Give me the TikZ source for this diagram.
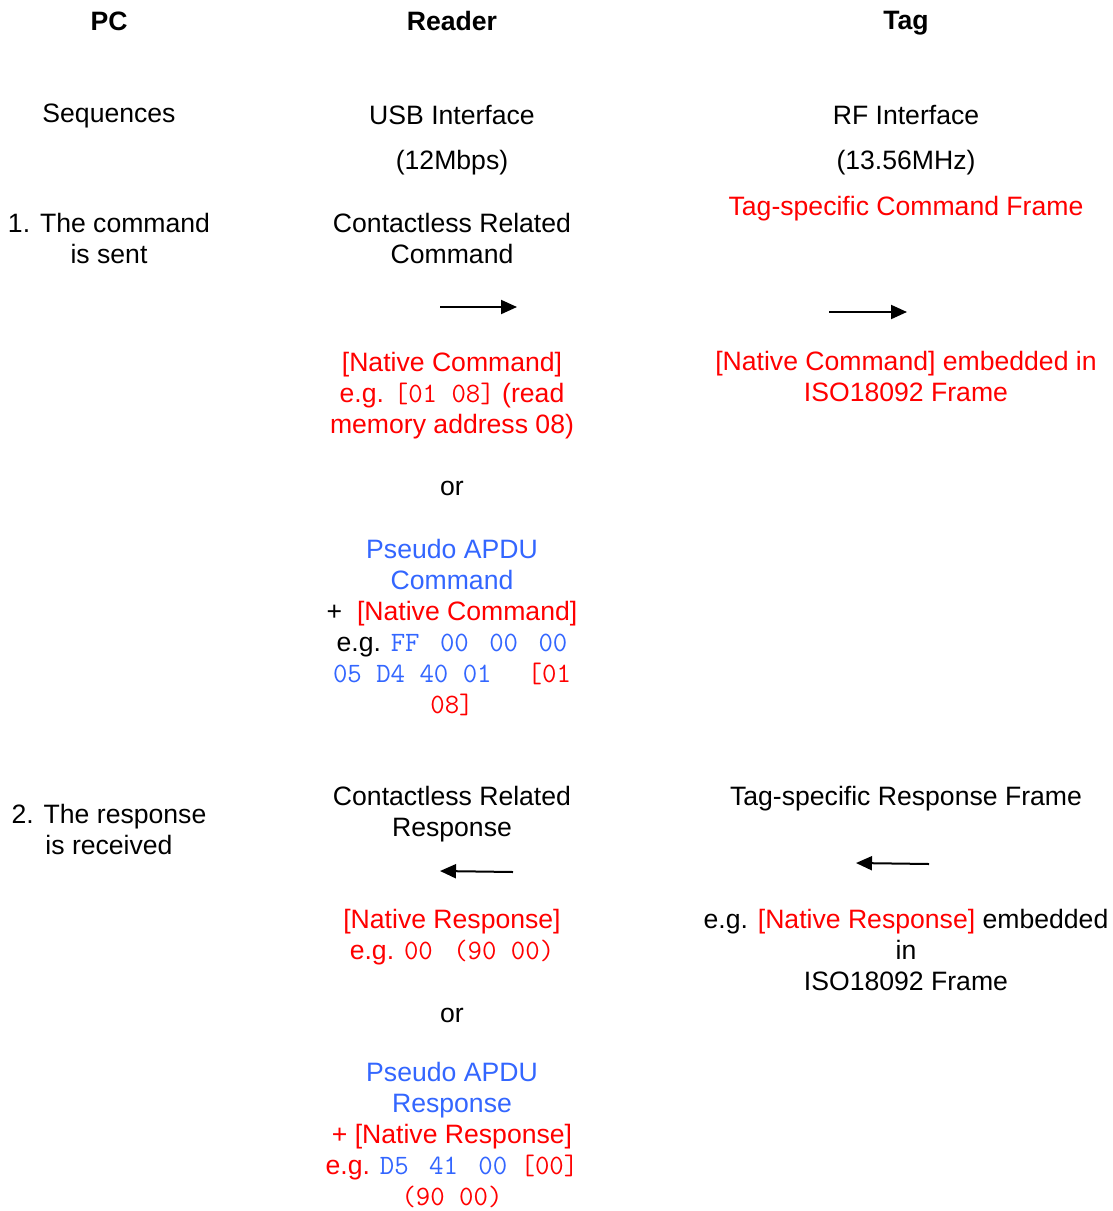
\documentclass[tikz,border=0pt]{standalone}
\usepackage{fontspec}
\setmainfont{Liberation Sans}
\usetikzlibrary{arrows.meta}
\definecolor{natred}{RGB}{255,0,0}
\definecolor{apdublue}{RGB}{51,102,255}
\newcommand{\hexcode}[1]{{\fontsize{14}{15.5}\selectfont\ttfamily #1}}
\newcommand{\red}[1]{\textcolor{natred}{#1}}
\newcommand{\blu}[1]{\textcolor{apdublue}{#1}}

\begin{document}
\begin{tikzpicture}[x=0.5pt,y=-0.5pt,
  txt/.style={align=center,inner sep=0pt,font=\fontsize{13.3}{15.5}\selectfont},
  head/.style={txt,font=\fontsize{13.3}{15.5}\selectfont\bfseries},
  native/.style={txt,text=natred},
  flow/.style={-{Triangle[length=8pt,width=7pt]},line width=1pt}]
\useasboundingbox (0,0) rectangle (1113,1211);

% column heads
\node[head] at (109,21) (pc) {PC};
\node[head] at (452,21) (reader) {Reader};
\node[head] at (906,23) (tag) {Tag};

\node[txt] at (109,116) (seq) {Sequences};
\node[txt] at (452,115) (usb) {USB Interface};
\node[txt] at (906,115) (rf) {RF Interface};
\node[txt] at (452,163) (usbrate) {(12Mbps)};
\node[txt] at (906,163) (rfrate) {(13.56MHz)};

% 1. command
\node[txt] at (109,238) (step1) {1. The command\\is sent};
\node[txt] at (452,238) (cmd) {Contactless Related\\Command};
\node[native] at (906,209) (tagcmd) {Tag-specific Command Frame};

\coordinate (cmdA) at (440,307);
\coordinate (cmdB) at (517,307);
\coordinate (tagA) at (829,312);
\coordinate (tagB) at (907,312);
\draw[flow] (cmdA) -- (cmdB);
\draw[flow] (tagA) -- (tagB);

\node[native] at (452,396) (natcmd) {[Native Command]\\e.g. \hexcode{[01 08]} (read\\memory address 08)};
\node[native] at (906,376) (embcmd) {[Native Command] embedded in\\ISO18092 Frame};
\node[txt] at (452,488) (or1) {or};
\node[txt] at (452,628) (apducmd) {\blu{Pseudo APDU}\\\blu{Command}\\+\ \ \red{[Native Command]}\\e.g. \blu{\hexcode{FF\hspace{3pt} 00\hspace{3pt} 00\hspace{3pt} 00}}\\\blu{\hexcode{05 D4 40 01}}\hspace{18pt}\red{\hexcode{[01}}\\\red{\hexcode{08]}}};

% 2. response
\node[txt] at (109,829) (step2) {2. The response\\is received};
\node[txt] at (452,814) (rsp) {Contactless Related\\Response};
\node[txt] at (906,799) (tagrsp) {Tag-specific Response Frame};

\coordinate (rspA) at (513,872);
\coordinate (rspB) at (440,871);
\coordinate (tagC) at (929,864);
\coordinate (tagD) at (856,863);
\draw[flow] (rspA) -- (rspB);
\draw[flow] (tagC) -- (tagD);

\node[native] at (452,937) (natrsp) {[Native Response]\\e.g. \hexcode{00\hspace{3pt} (90 00)}};
\node[txt] at (906,950) (embrsp) {e.g. \red{[Native Response]} embedded\\in\\ISO18092 Frame};
\node[txt] at (452,1015) (or2) {or};
\node[txt] at (452,1135) (apdursp) {\blu{Pseudo APDU}\\\blu{Response}\\\red{+ [Native Response]}\\\red{e.g.} \blu{\hexcode{D5\hspace{3pt} 41\hspace{3pt} 00}}\hspace{3pt} \red{\hexcode{[00]}}\\\red{\hexcode{(90 00)}}};

\end{tikzpicture}
\end{document}
